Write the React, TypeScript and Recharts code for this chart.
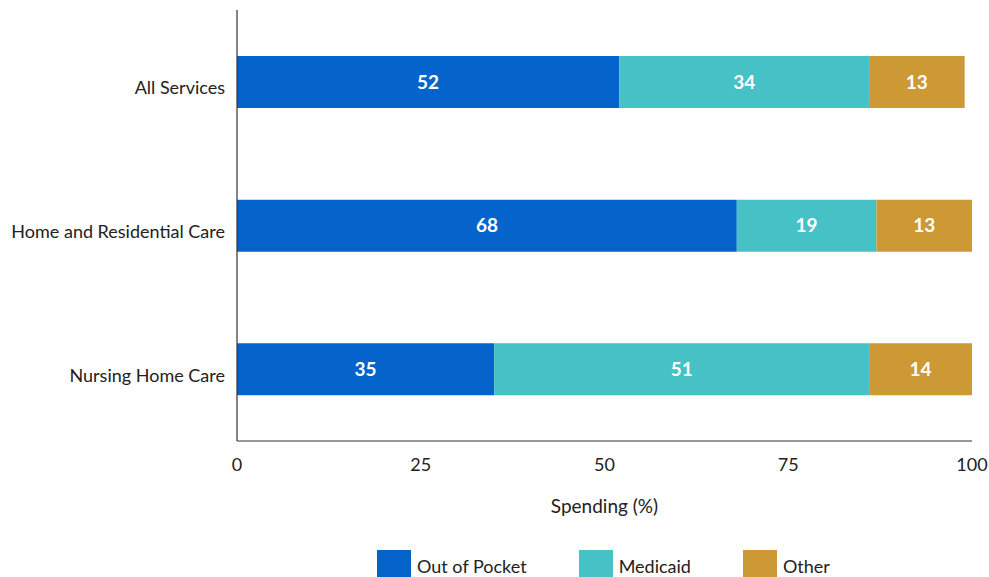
import { Bar, BarChart, LabelList, Legend, XAxis, YAxis, Label } from "recharts";

const categories = ["All Services", "Home and Residential Care", "Nursing Home Care"];
const outOfPocket = [52, 68, 35];
const medicaid = [34, 19, 51];
const other = [13, 13, 14];
const xTicks = [0, 25, 50, 75, 100];

const seriesList = [
  { key: "outOfPocket", name: "Out of Pocket", color: "#0563cc" },
  { key: "medicaid", name: "Medicaid", color: "#46c1c5" },
  { key: "other", name: "Other", color: "#cc9934" },
];

const data = categories.map((c, i) => ({
  category: c,
  outOfPocket: outOfPocket[i],
  medicaid: medicaid[i],
  other: other[i],
}));

const FONT = "Lato, 'Open Sans', sans-serif";

function LegendContent() {
  return (
    <div style={{ height: 56, overflow: "hidden", boxSizing: "border-box", paddingTop: 29, display: "flex", paddingLeft: 377 }}>
      {seriesList.map((s) => (
        <div key={s.key} style={{ display: "flex", alignItems: "flex-start", marginRight: 52 }}>
          <div style={{ width: 34, height: 30, background: s.color }} />
          <span style={{ marginLeft: 6, marginTop: 6, fontFamily: FONT, fontSize: 18, color: "#222", lineHeight: "20px" }}>{s.name}</span>
        </div>
      ))}
    </div>
  );
}

export default function App() {
  return (
    <div style={{ position: "absolute", left: 0, top: 0, background: "#fff" }}>
      <BarChart
        width={989}
        height={577}
        data={data}
        layout="vertical"
        margin={{ top: 10, right: 17, left: 0, bottom: 0 }}
        barSize={52}
      >
        <XAxis
          type="number"
          domain={[0, 100]}
          ticks={xTicks}
          tickLine={false}
          tickSize={0}
          tickMargin={17}
          axisLine={{ stroke: "#333", strokeWidth: 1.2 }}
          height={80}
          tick={{ fontFamily: FONT, fontSize: 18, fill: "#222" }}
          interval={0}
        >
          <Label value="Spending (%)" position="insideBottom" offset={8} style={{ fontFamily: FONT, fontSize: 19, fill: "#222" }} />
        </XAxis>
        <YAxis
          type="category"
          dataKey="category"
          width={237}
          tickLine={false}
          tickSize={0}
          tickMargin={12}
          axisLine={{ stroke: "#333", strokeWidth: 1.2 }}
          tick={{ fontFamily: FONT, fontSize: 18, fill: "#222", dy: 6 }}
        />
        <Legend verticalAlign="bottom" content={<LegendContent />} />
        {seriesList.map((s) => (
          <Bar key={s.key} dataKey={s.key} name={s.name} stackId="a" fill={s.color} isAnimationActive={false}>
            <LabelList dataKey={s.key} position="center" fill="#fff" style={{ fontFamily: FONT, fontSize: 19, fontWeight: 700 }} />
          </Bar>
        ))}
      </BarChart>
    </div>
  );
}
